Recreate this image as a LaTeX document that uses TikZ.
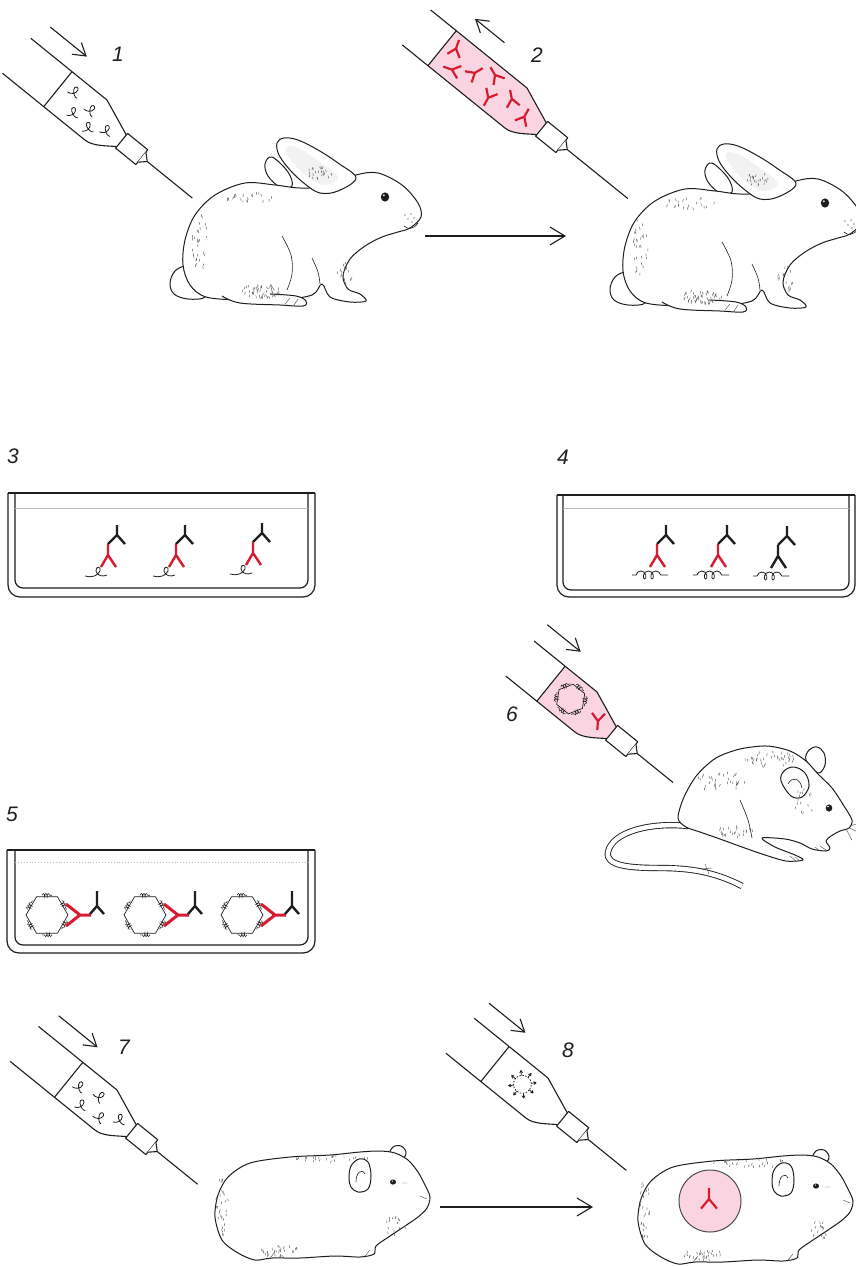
\documentclass[tikz,border=0pt]{standalone}
\usepackage{fontspec}
\newfontfamily\labelfont{Liberation Sans}
\usetikzlibrary{arrows.meta,decorations.pathmorphing}

\definecolor{ink}{RGB}{30,30,30}
\definecolor{abred}{RGB}{215,28,50}
\definecolor{serum}{RGB}{250,213,225}

\tikzset{
  syr/.style={draw=ink,line width=1.1pt,line join=round},
  pusharrow/.style={draw=ink,line width=1.1pt,-{Straight Barb[length=12pt,width=15pt]}},
  steparrow/.style={draw=ink,line width=1.1pt,-{Straight Barb[length=15pt,width=18pt]}},
  fur/.style={draw=ink,line width=1pt,line join=round},
  hair/.style={draw=ink!75,line width=0.45pt},
  dishwall/.style={draw=ink,line width=1.2pt},
  medium/.style={draw=gray!55,line width=0.9pt},
  ab/.style={line width=2.4pt},
  antigen/.style={draw=ink,line width=0.8pt},
  steplabel/.style={font=\labelfont\itshape\fontsize{21}{21}\selectfont,inner sep=0pt,text=ink},
}

% syringe drawn along its own axis: origin at the upper shoulder,
% #1 name, #2 shoulder point, #3 barrel end, #4 plunger, #5 fill,
% #6/#7 push arrow ends, #8 needle end, #9 contents
\newcommand\syringe[9]{%
  \begin{scope}[shift={#2},rotate=-39]
    \fill[#5] (#4,0) -- (0,0) -- (37,15) -- (37,30) .. controls (28,36) and (18,45) .. (8,45) -- (#4,45) -- cycle;
    #9
    \draw[syr] (#3,0) -- (0,0) -- (37,15);
    \draw[syr] (#3,45) -- (8,45) .. controls (18,45) and (28,36) .. (37,30);
    \draw[syr] (#4,0) -- (#4,45);
    \draw[syr,fill=white] (37,13) -- (63,13) -- (63,32) -- (37,32) -- cycle;
    \draw[syr,fill=white] (63,16) -- (70,22.5) -- (63,29);
    \coordinate (#1tip) at (70,22.5);
    \coordinate (#1end) at (#8,22.5);
    \draw[syr] (#1tip) -- (#1end);
    \coordinate (#1push) at (#6,-21);
    \coordinate (#1stop) at (#7,-21);
    \draw[pusharrow] (#1push) -- (#1stop);
  \end{scope}}

% small curled antigen
\newcommand\curl[3]{%
  \begin{scope}[shift={(#1,#2)},rotate=#3,scale=1.15]
    \draw[antigen] (-5,4) .. controls (-2,4) and (2,1) .. (1,-3) .. controls (0,-6) and (-4,-4) .. (-2,-1) .. controls (0,2) and (3,4) .. (5,3);
  \end{scope}}

% antibody: stem up, arms down before rotation
\newcommand\abody[5][]{%
  \begin{scope}[shift={(#2,#3)},rotate=#4,#1]
    \draw[#5,line width=2.2pt] (0,-7) -- (0,0) -- (-5,6) (0,0) -- (5,6);
  \end{scope}}

% hexagonal cell carrying coiled antigens
\newcommand\cell[3]{%
  \begin{scope}[shift={(#1,#2)}]
    \draw[antigen,line width=0.7pt] (0:#3) -- (60:#3) -- (120:#3) -- (180:#3) -- (240:#3) -- (300:#3) -- cycle;
    \foreach \a in {30,90,...,330}{
      \draw[antigen,line width=0.55pt,rotate=\a,decorate,decoration={coil,aspect=0.5,segment length=2.4pt,amplitude=1.8pt}] (#3*0.87+1.5,-5) -- (#3*0.87+1.5,5);
    }
  \end{scope}}

% antibody pair in a dish
\newcommand\pair[4]{%
  \begin{scope}[shift={(#1,#2)}]
    #4
    \draw[ink,ab] (0,0) -- (0,10) -- (-9,19) (0,10) -- (8,19);
    \draw[#3,ab] (-9,19) -- (-9,30) -- (-16,42) (-9,30) -- (-1,42);
  \end{scope}}
\newcommand\singleloop{\draw[antigen] (-32,51) .. controls (-26,53) and (-19,51) .. (-17,46) .. controls (-15,41) and (-22,41) .. (-21,46) .. controls (-20,51) and (-14,52) .. (-10,50);}
\newcommand\coiltail{\draw[antigen,decorate,decoration={coil,aspect=0.75,segment length=7.5pt,amplitude=4pt,pre length=4pt,post length=6pt}] (-34,50) -- (2,50);}

% cell-antibody complex in dish 5
\newcommand\complex[1]{%
  \cell{#1}{915}{21}
  \draw[abred,line width=3pt] (#1+19,904) -- (#1+33,915) -- (#1+19,926) (#1+33,915) -- (#1+44,915);
  \draw[ink,ab] (#1+50,891) -- (#1+50,906) -- (#1+43,914) (#1+50,906) -- (#1+57,914);
}

% fine fur strokes scattered over an ellipse
\newcommand\stipple[5]{%
  \foreach \i in {1,...,#5}{
    \pgfmathsetmacro\ang{rnd*360}
    \pgfmathsetmacro\rr{sqrt(rnd)}
    \pgfmathsetmacro\px{#1+#3*\rr*cos(\ang)}
    \pgfmathsetmacro\py{#2+#4*\rr*sin(\ang)}
    \draw[hair] (\px,\py) -- ++(rnd*2-1,2.5);
  }}

\newcommand\rabbit{%
  \draw[fur,fill=white] plot[smooth cycle,tension=0.6] coordinates {(186,266) (175,271) (170,283) (174,294) (188,299) (205,297) (200,283) (193,272)};
  \draw[fur,fill=white] plot[smooth cycle,tension=0.6] coordinates {(272,157) (265,164) (268,176) (280,187) (292,186) (288,172)};
  \draw[fur,fill=white] plot[smooth cycle,tension=0.55] coordinates {(275,185) (245,183) (215,195) (195,215) (185,240) (183,265) (190,285) (206,297) (240,300) (280,300) (312,295) (322,284) (330,297) (350,302) (366,301) (360,294) (348,289) (343,276) (350,259) (365,246) (382,237) (398,232) (410,228) (421,217) (418,203) (402,185) (378,173) (356,175) (330,186) (300,188)};
  \draw[fur,fill=white] plot[smooth cycle,tension=0.6] coordinates {(356,178) (338,163) (318,150) (298,140) (284,138) (277,143) (279,155) (290,170) (305,184) (320,193) (338,191)};
  \fill[gray!10] plot[smooth cycle,tension=0.6] coordinates {(338,177) (320,162) (302,150) (289,146) (286,152) (296,166) (312,180) (326,185)};
  \stipple{318}{172}{14}{6}{22}
  \draw[fur,fill=white] plot[smooth,tension=0.6] coordinates {(222,296) (240,303) (280,305) (303,306) (306,301) (296,296) (270,294)};
  \draw[hair] (285,304) -- (290,298) (294,305) -- (298,299);
  \draw[fur,line width=0.6pt] plot[smooth,tension=0.6] coordinates {(282,236) (291,255) (292,274) (287,290)};
  \draw[fur,line width=0.6pt] plot[smooth,tension=0.6] coordinates {(312,258) (318,272) (320,284)};
  \fill[ink] (385,197) ellipse (4.2 and 4.6);
  \fill[white] (383.8,195.3) circle (1);
  \draw[fur,line width=0.6pt] (404,226) .. controls (408,230) and (414,229) .. (418,223);
  \foreach \p in {(411,214),(414,218),(408,219),(412,222),(405,215)} \fill[ink] \p circle (0.6);
  \stipple{262}{290}{20}{7}{55}
  \stipple{200}{240}{8}{30}{30}
  \stipple{250}{196}{25}{6}{22}
  \stipple{345}{272}{8}{14}{18}
}

\newcommand\mouse{%
  \draw[ink,line width=0.9pt,double=white,double distance=4.5pt] (688,826) .. controls (650,822) and (612,832) .. (608,852) .. controls (605,866) and (630,868) .. (660,868) .. controls (690,868) and (715,872) .. (742,886);
  \draw[hair] (705,864) -- (709,874) (702,869) -- (712,868);
  \draw[fur,fill=white] plot[smooth cycle,tension=0.6] coordinates {(806,760) (809,750) (817,747) (824,753) (825,765) (818,773)};
  \draw[fur,fill=white] plot[smooth cycle,tension=0.5] coordinates {(678,818) (684,797) (697,775) (716,758) (740,749) (767,746) (790,751) (806,761) (818,774) (832,788) (844,806) (852,820) (849,828) (840,831) (831,836) (826,841) (830,848) (826,851) (812,849) (800,843) (785,839) (762,838) (775,847) (795,855) (803,860) (786,861) (762,854) (742,847) (720,839) (700,832) (686,827)};
  \draw[fur,fill=white] plot[smooth cycle,tension=0.6] coordinates {(781,781) (784,771) (794,767) (805,773) (809,786) (802,797) (791,796)};
  \draw[fur,line width=0.6pt] (788,784) .. controls (792,776) and (800,778) .. (802,788);
  \fill[ink] (829,808) ellipse (3.3 and 3.6);
  \fill[white] (828,806.5) circle (0.8);
  \draw[hair] (850,826) -- (862,822) (850,828) -- (860,833) (846,829) -- (852,840);
  \draw[fur,line width=0.6pt] plot[smooth,tension=0.6] coordinates {(740,800) (748,820) (752,838)};
  \draw[hair] (820,846) -- (826,850) (815,847) -- (820,851) (795,857) -- (800,861) (790,856) -- (796,861);
  \stipple{720}{780}{25}{10}{35}
  \stipple{770}{758}{25}{8}{40}
  \stipple{735}{830}{18}{6}{25}
  \stipple{805}{800}{12}{12}{15}
}

\newcommand\guineapig{%
  \draw[fur,fill=white] plot[smooth cycle,tension=0.6] coordinates {(390,1155) (393,1147) (401,1146) (406,1152) (403,1158)};
  \draw[fur,fill=white] plot[smooth cycle,tension=0.5] coordinates {(215,1217) (218,1195) (228,1177) (250,1163) (290,1157) (330,1155) (360,1152) (380,1151) (395,1153) (408,1160) (418,1172) (425,1185) (430,1197) (427,1208) (418,1217) (405,1226) (390,1236) (376,1246) (374,1254) (360,1257) (335,1256) (300,1258) (272,1258) (255,1260) (238,1253) (222,1240)};
  \draw[fur,fill=white] plot[smooth cycle,tension=0.6] coordinates {(349,1178) (351,1166) (359,1159) (368,1162) (371,1176) (368,1189) (358,1192) (351,1187)};
  \draw[fur,line width=0.6pt] (356,1182) .. controls (356,1172) and (362,1168) .. (365,1174);
  \fill[ink] (393,1182) ellipse (3 and 2.6);
  \fill[white] (392.3,1181) circle (0.7);
  \draw[hair] (402,1183) -- (407,1183) (420,1196) -- (427,1199);
  \draw[hair] (270,1258) -- (275,1252) (365,1256) -- (370,1250);
  \stipple{222}{1205}{6}{30}{30}
  \stipple{280}{1250}{20}{6}{30}
  \stipple{330}{1158}{40}{4}{25}
  \stipple{395}{1225}{10}{10}{15}
}

\begin{document}
\begin{tikzpicture}[x=1pt,y=-1pt]
\useasboundingbox (0,0) rectangle (856,1266);
\fill[white] (0,0) rectangle (856,1266);
\clip (0,0) rectangle (856,1266);
\pgfmathsetseed{7}

% ---------- step 1: immunising the rabbit ----------
\syringe{sA}{(107,100)}{-98}{-45}{white}{-90}{-43}{128}{%
  \curl{-30}{14}{0}\curl{-18}{31}{20}\curl{-6}{18}{-10}\curl{3}{33}{30}\curl{19}{24}{10}}
\node[steplabel] (l1) at (118,54) {1};
\rabbit

% ---------- step 2: collecting the antiserum ----------
\syringe{sB}{(527,88)}{-124}{-91}{serum}{-46}{-84}{148}{%
  \abody[scale=1.3]{-80}{14}{20}{abred}
  \abody[scale=1.3]{-70}{33}{110}{abred}
  \abody[scale=1.3]{-50}{21}{-20}{abred}
  \abody[scale=1.3]{-33}{10}{70}{abred}
  \abody[scale=1.3]{-24}{32}{190}{abred}
  \abody[scale=1.3]{-5}{18}{50}{abred}
  \abody[scale=1.3]{16}{24}{10}{abred}}
\node[steplabel] (l2) at (537,55) {2};
\begin{scope}[shift={(440,6)}]
  \rabbit
\end{scope}
\coordinate (rA) at (425,236);
\coordinate (rB) at (566,236);
\draw[steparrow] (rA) -- (rB);

% ---------- step 3 ----------
\node[steplabel] (l3) at (13,456) {3};
\draw[dishwall,rounded corners=12pt] (8,493) -- (8,597) -- (315,597) -- (315,493);
\draw[dishwall,rounded corners=8pt] (15,493) -- (15,588) -- (308,588) -- (308,493);
\draw[dishwall] (8,493) -- (315,493);
\draw[medium] (15,508) -- (308,508);
\pair{117}{525}{abred}{\singleloop}
\pair{185}{525}{abred}{\singleloop}
\pair{262}{523}{abred}{\singleloop}

% ---------- step 4 ----------
\node[steplabel] (l4) at (563,457) {4};
\draw[dishwall,rounded corners=12pt] (557,495) -- (557,597) -- (855,597) -- (855,495);
\draw[dishwall,rounded corners=8pt] (563,495) -- (563,590) -- (849,590) -- (849,495);
\draw[dishwall] (557,495) -- (855,495);
\draw[medium] (563,508) -- (849,508);
\pair{666}{525}{abred}{\coiltail}
\pair{727}{525}{abred}{\coiltail}
\pair{787}{526}{ink}{\coiltail}

% ---------- step 5 ----------
\node[steplabel] (l5) at (12,814) {5};
\draw[dishwall,rounded corners=12pt] (7,850) -- (7,953) -- (315,953) -- (315,850);
\draw[dishwall,rounded corners=8pt] (15,850) -- (15,945) -- (308,945) -- (308,850);
\draw[dishwall] (7,850) -- (315,850);
\draw[medium,dotted] (15,862) -- (308,862);
\complex{47}
\complex{145}
\complex{242}

% ---------- step 6: injecting the mouse ----------
\syringe{sC}{(597,692)}{-81}{-41}{serum}{-81}{-38}{116}{%
  \cell{-16}{22}{15}
  \abody[scale=1.3]{19}{22}{215}{abred}}
\node[steplabel] (l6) at (512,714) {6};
\mouse

% ---------- step 7 ----------
\syringe{sD}{(117,1090)}{-101}{-44}{white}{-92}{-42}{122}{%
  \curl{-31}{21}{0}\curl{-9}{16}{-20}\curl{-18}{34}{15}\curl{4}{32}{-10}\curl{21}{21}{20}}
\node[steplabel] (l7) at (124,1047) {7};
\guineapig

% ---------- step 8 ----------
\syringe{sE}{(548,1078)}{-95}{-50}{white}{-93}{-46}{119}{%
  \begin{scope}[shift={(-16,21)}]
    \draw[antigen,dash pattern=on 1.5pt off 1.5pt] (0,0) circle (9);
    \foreach \a in {0,45,...,315}
      \draw[antigen,line width=0.7pt] (\a:9) -- (\a:14) (\a:14) -- ++(\a+150:3) (\a:14) -- ++(\a-150:3);
  \end{scope}}
\node[steplabel] (l8) at (568,1050) {8};
\begin{scope}[shift={(423,4)}]
  \guineapig
\end{scope}
\draw[draw=ink!80,line width=1pt,fill=serum] (710,1201) circle (31);
\abody[scale=1.6]{709}{1199}{0}{abred}
\coordinate (gA) at (440,1207);
\coordinate (gB) at (593,1207);
\draw[steparrow] (gA) -- (gB);
\end{tikzpicture}
\end{document}
